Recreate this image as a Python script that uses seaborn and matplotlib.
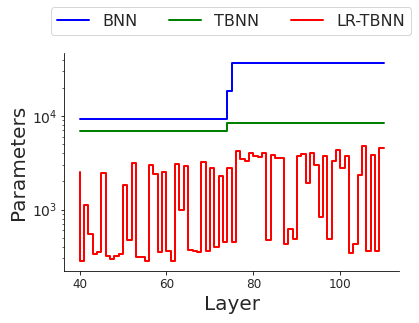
import numpy as np
import pandas as pd
import matplotlib
matplotlib.use("Agg")
import matplotlib.pyplot as plt
from matplotlib.ticker import MultipleLocator
import seaborn as sns

layers = list(range(40, 111))

bnn = [9216] * 35 + [18432] + [36864] * 35
tbnn = [6850] * 35 + [8400] * 36
lr_tbnn = [
    2540, 281, 1120, 545, 333, 354, 2460, 318, 298, 318,
    333, 1840, 475, 3150, 310, 310, 281, 3000, 2400, 348,
    2500, 362, 281, 3080, 1000, 2930, 368, 359, 350, 3200,
    359, 2790, 396, 2290, 448, 2760, 448, 4190, 3480, 3280,
    3990, 3770, 3680, 3990, 467, 3800, 3530, 3530, 423, 617,
    487, 3710, 3890, 1940, 3990, 2970, 828, 3770, 479, 3280,
    4370, 2760, 3720, 342, 423, 2320, 4740, 359, 3800, 359,
    4510,
]

series_names = ["BNN", "TBNN", "LR-TBNN"]
series_colors = ["blue", "green", "red"]

sns.set_style("ticks")
plt.rcParams["font.family"] = ["DejaVu Sans"]

fig = plt.figure(figsize=(419 / 72, 323 / 72), dpi=72)
ax = fig.add_axes([64.3 / 419, 1 - 271 / 323, (399 - 64.3) / 419, (271 - 53) / 323])

for name, vals, col in zip(series_names, [bnn, tbnn, lr_tbnn], series_colors):
    sns.lineplot(x=layers, y=vals, ax=ax, color=col, label=name,
                 drawstyle="steps-pre", linewidth=2, legend=False)

ax.set_yscale("log")
ax.xaxis.set_major_locator(MultipleLocator(20))
ax.set_xlabel("Layer", fontsize=20)
ax.set_ylabel("Parameters", fontsize=20)
ax.tick_params(axis="both", which="major", length=3.5, width=0.8, color="black")
ax.tick_params(axis="x", which="major", labelsize=12)
ax.tick_params(axis="y", which="major", labelsize=14)
ax.tick_params(axis="y", which="minor", length=2, width=0.6, color="black")
for s in ["left", "bottom"]:
    ax.spines[s].set_color("black")
    ax.spines[s].set_linewidth(0.8)
sns.despine(ax=ax)

handles, labels = ax.get_legend_handles_labels()
fig.legend(handles, labels, loc="upper center", ncol=3, fontsize=16,
           bbox_to_anchor=(231 / 419, 1 - 7.3 / 323), borderaxespad=0,
           frameon=True, edgecolor="0.8", fancybox=True)

fig.savefig("out.png", dpi=72)
